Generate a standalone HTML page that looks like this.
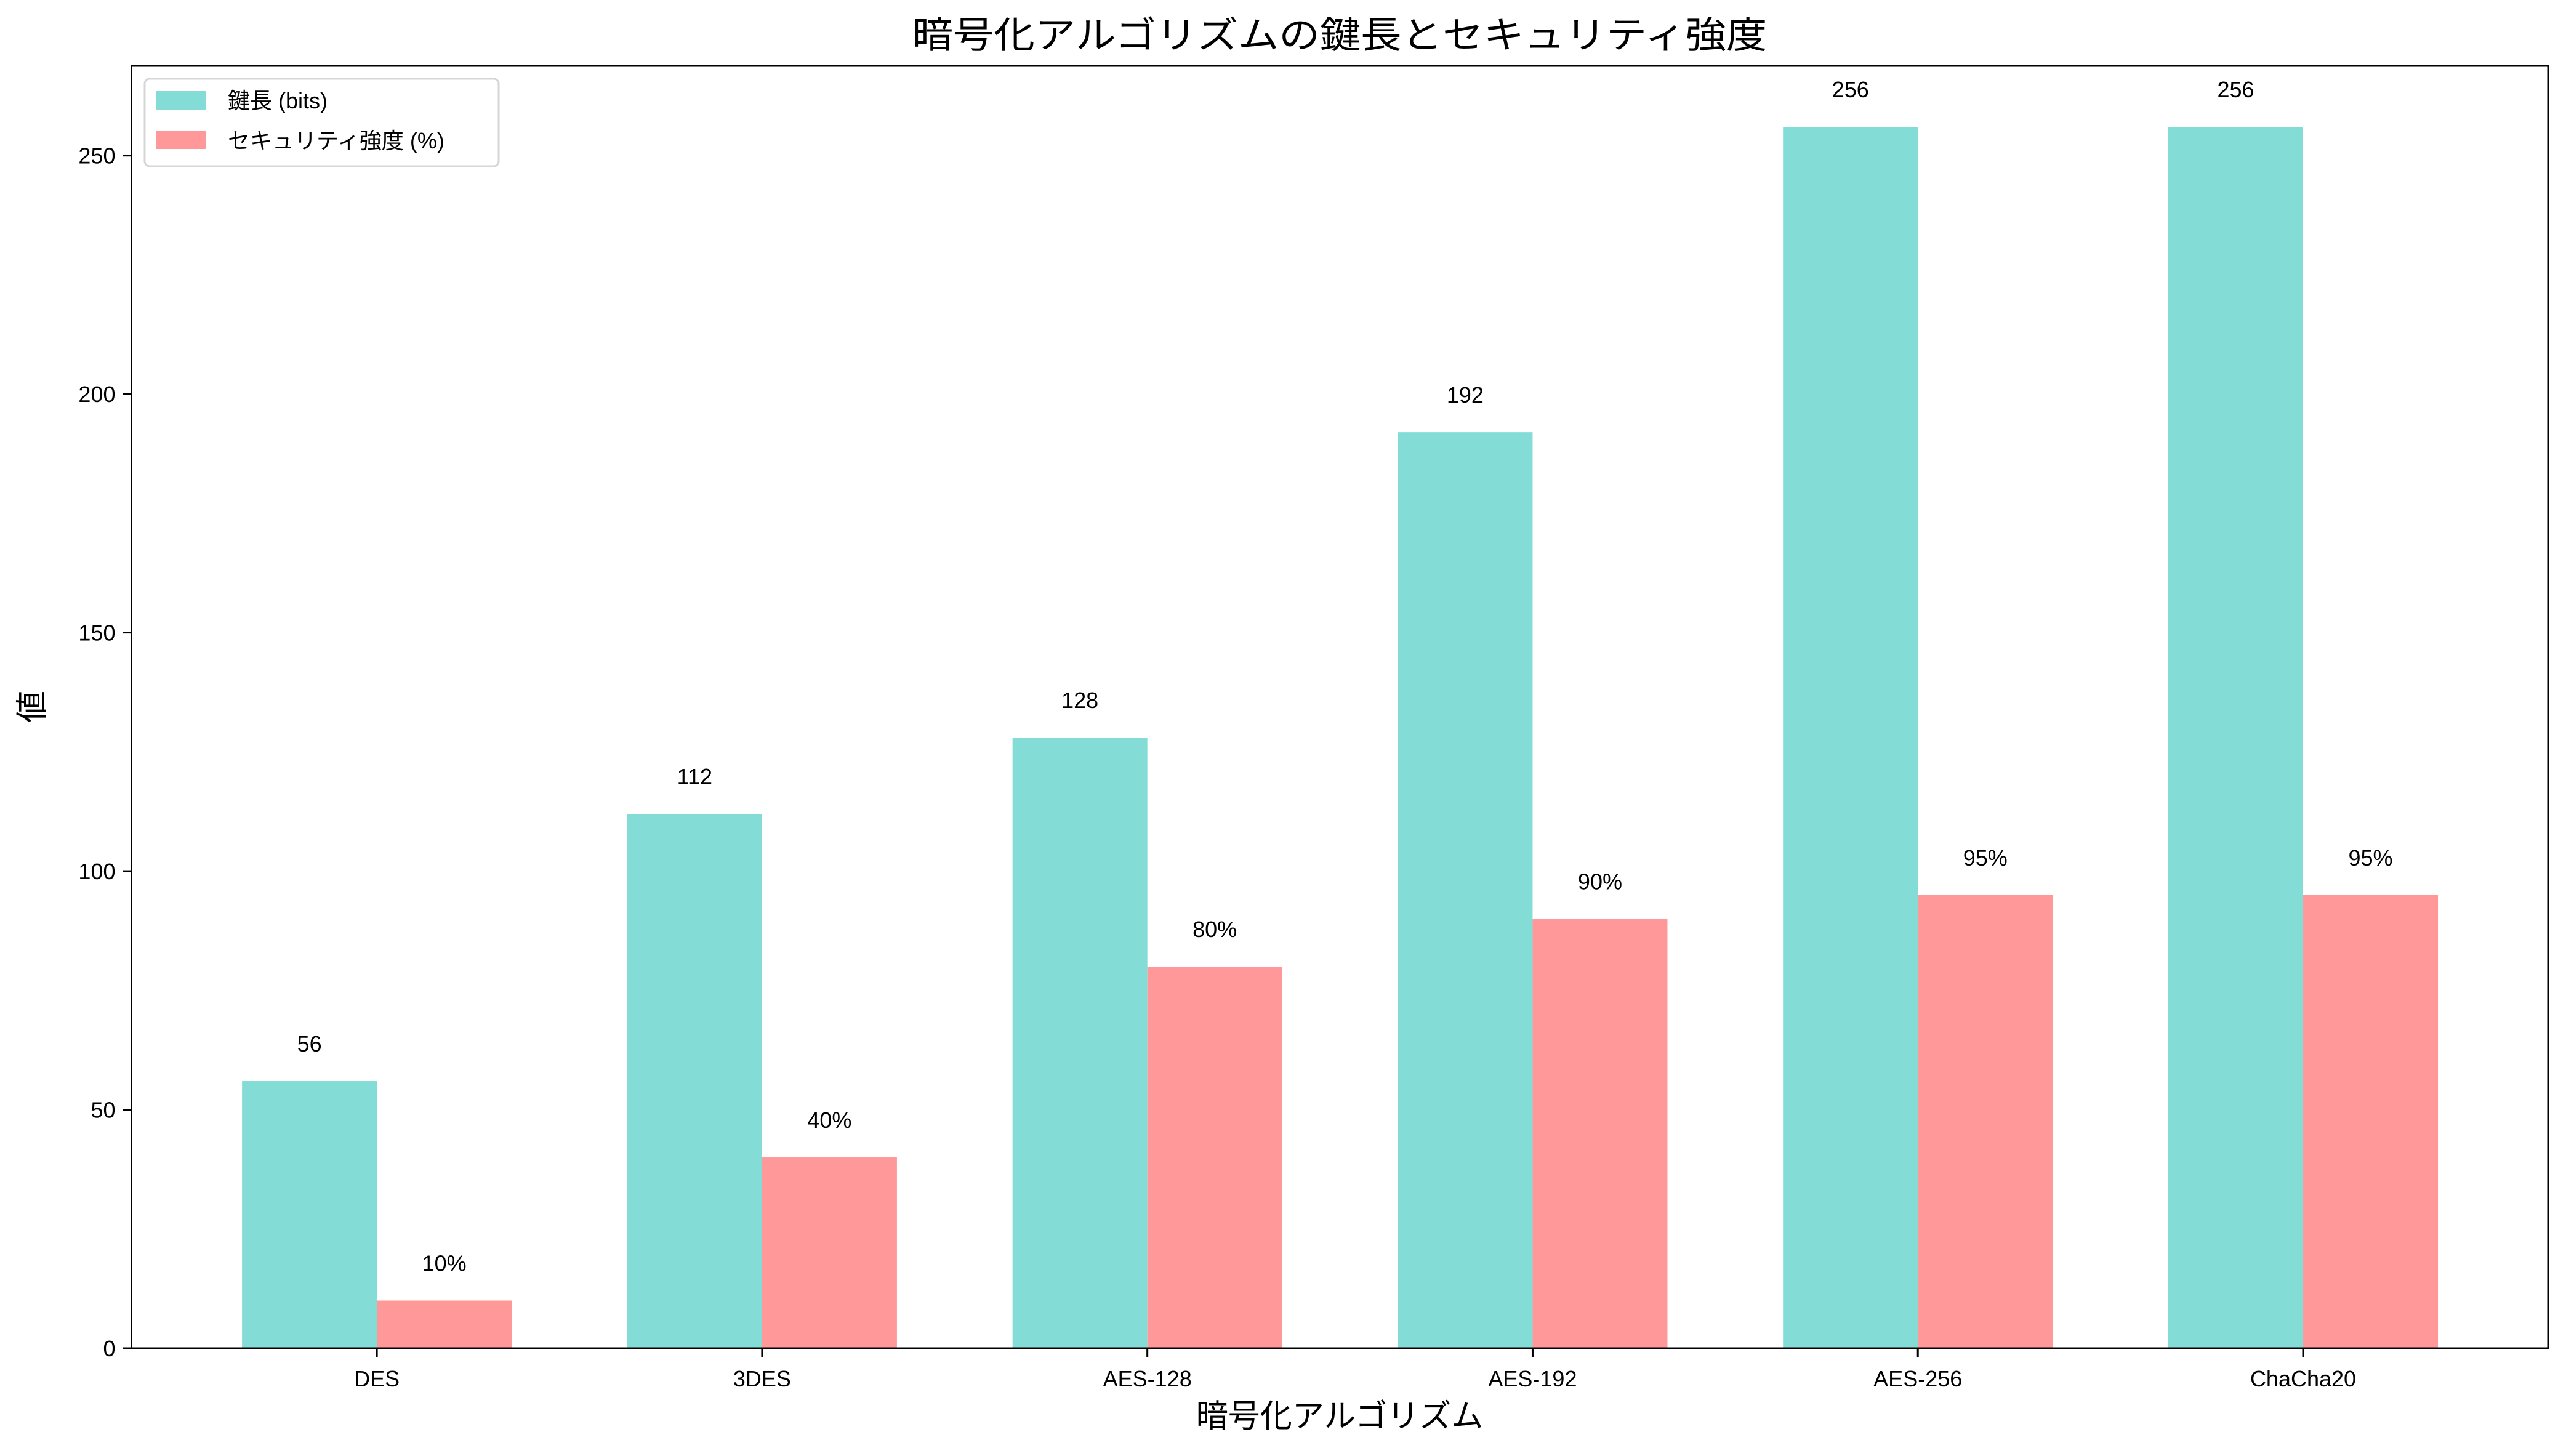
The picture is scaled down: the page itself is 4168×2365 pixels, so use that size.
<!DOCTYPE html>
<html><head><meta charset="utf-8"><style>
html,body{margin:0;padding:0;background:#fff;}
svg{display:block;font-family:"Liberation Sans","Noto Sans CJK JP",sans-serif;}
</style></head><body>
<svg id="chart" width="4168" height="2365" viewBox="0 0 4168 2365" xmlns="http://www.w3.org/2000/svg">
<rect x="0" y="0" width="4168" height="2365" fill="#fff"/>
<text x="2176" y="78" font-size="60" text-anchor="middle" textLength="1389" lengthAdjust="spacingAndGlyphs">暗号化アルゴリズムの鍵長とセキュリティ強度</text>
<g id="bars"></g>
<g id="axes"></g>
<text x="2176" y="2318" font-size="52" text-anchor="middle">暗号化アルゴリズム</text>
<text x="0" y="0" font-size="52" text-anchor="middle" transform="translate(70,1148) rotate(-90)">値</text>
<g>
<rect x="235" y="128" width="575" height="142" rx="8" fill="#fff" fill-opacity="0.8" stroke="#d6d6d6" stroke-width="3"/>
<rect x="253" y="148" width="82" height="30" fill="#84dcd6"/>
<text x="370" y="176" font-size="36">鍵長 (bits)</text>
<rect x="253" y="213" width="82" height="29" fill="#ff9999"/>
<text x="370" y="241" font-size="36">セキュリティ強度 (%)</text>
</g>
</svg>
<script>
const categories = ["DES","3DES","AES-128","AES-192","AES-256","ChaCha20"];
const keyLengths = [56,112,128,192,256,256];
const securityStrength = [10,40,80,90,95,95];
const yTicks = [0,50,100,150,200,250];

const NS = "http://www.w3.org/2000/svg";
const L = 213.5, R = 4139, T = 107, B = 2190;
const xMin = -0.637, xMax = 5.636;
const yMax = Math.max(...keyLengths, ...securityStrength) * 1.05;
const barW = 0.35;
function xs(v){ return L + (v - xMin) / (xMax - xMin) * (R - L); }
function ys(v){ return B - v / yMax * (B - T); }
function mk(tag, attrs, parent){
  const e = document.createElementNS(NS, tag);
  for (const k in attrs) e.setAttribute(k, attrs[k]);
  parent.appendChild(e);
  return e;
}
const bars = document.getElementById("bars");
const axes = document.getElementById("axes");
categories.forEach((c, i) => {
  const x1 = xs(i - barW), x2 = xs(i), x3 = xs(i + barW);
  const b1 = mk("rect", {x:x1, y:ys(keyLengths[i]), width:x2-x1, height:B-ys(keyLengths[i]), fill:"#84dcd6"}, bars);
  
  
  const b2 = mk("rect", {x:x2, y:ys(securityStrength[i]), width:x3-x2, height:B-ys(securityStrength[i]), fill:"#ff9999"}, bars);
  
  
  const t1 = mk("text", {x:(x1+x2)/2, y:ys(keyLengths[i])-48, "font-size":36, "text-anchor":"middle"}, bars);
  t1.textContent = String(keyLengths[i]);
  
  
  const t2 = mk("text", {x:(x2+x3)/2, y:ys(securityStrength[i])-48, "font-size":36, "text-anchor":"middle"}, bars);
  t2.textContent = securityStrength[i] + "%";
  
  
  const tk = mk("line", {x1:xs(i), x2:xs(i), y1:B, y2:B+14, stroke:"#000", "stroke-width":3}, axes);
  
  
  const tl = mk("text", {x:xs(i), y:B+62, "font-size":36, "text-anchor":"middle"}, axes);
  tl.textContent = c;
  
  
});
yTicks.forEach(v => {
  const tk = mk("line", {x1:L-14, x2:L, y1:ys(v), y2:ys(v), stroke:"#000", "stroke-width":3}, axes);
  
  
  const tl = mk("text", {x:L-26, y:ys(v)+13, "font-size":36, "text-anchor":"end"}, axes);
  tl.textContent = String(v);
  
  
});
const frame = mk("rect", {x:L, y:T, width:R-L, height:B-T, fill:"none", stroke:"#000", "stroke-width":3}, axes);


</script>
</body></html>
